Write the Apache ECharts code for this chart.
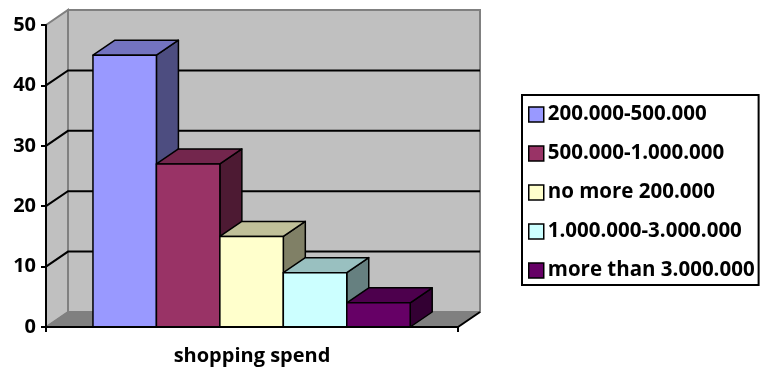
<!DOCTYPE html>
<html>
<head>
<meta charset="utf-8">
<script src="https://cdn.jsdelivr.net/npm/echarts@6/dist/echarts.min.js"></script>
<style>
html,body{margin:0;padding:0;background:#fff;}
#chart{width:760px;height:369px;}
</style>
</head>
<body>
<div id="chart"></div>
<script>
// ---- data ----
const categories = ['shopping spend'];
const seriesNames = ['200.000-500.000', '500.000-1.000.000', 'no more 200.000', '1.000.000-3.000.000', 'more than 3.000.000'];
const seriesValues = [45, 27, 15, 9, 4];
const yTicks = [0, 10, 20, 30, 40, 50];

// ---- styles ----
const frontColors = ['#9999FF', '#993366', '#FFFFCC', '#CCFFFF', '#660066'];
const topColors   = ['#7373C0', '#73264D', '#C0C099', '#99C0C0', '#4D004D'];
const sideColors  = ['#4D4D80', '#4D1A33', '#808066', '#668080', '#330033'];
const DX = 22, DY = -15;
const GAP_FRAC = 0.114, BAR_FRAC = 0.154;
const FONT = '"Open Sans", "Liberation Sans", sans-serif';

const chart = echarts.init(document.getElementById('chart'), null, {renderer: 'canvas'});

function wallsRender(params, api) {
  const c0 = api.coord([0, yTicks[0]]);
  const cTop = api.coord([0, yTicks[yTicks.length - 1]]);
  const bw = api.size([1, 0])[0];
  const xL = c0[0] - bw / 2, xR = c0[0] + bw / 2;
  const yB = c0[1], yT = cTop[1];
  const children = [];
  // back wall
  children.push({type: 'polygon', shape: {points: [[xL + DX, yT + DY], [xR + DX, yT + DY], [xR + DX, yB + DY], [xL + DX, yB + DY]]},
    style: {fill: '#C0C0C0', stroke: '#808080', lineWidth: 2}});
  // side wall
  children.push({type: 'polygon', shape: {points: [[xL, yT], [xL + DX, yT + DY], [xL + DX, yB + DY], [xL, yB]]},
    style: {fill: '#C0C0C0', stroke: '#808080', lineWidth: 2}});
  // floor
  children.push({type: 'polygon', shape: {points: [[xL, yB], [xL + DX, yB + DY], [xR + DX, yB + DY], [xR, yB]]},
    style: {fill: '#808080', stroke: '#808080', lineWidth: 1}});
  // gridlines
  for (let i = 1; i < yTicks.length - 1; i++) {
    const y = api.coord([0, yTicks[i]])[1];
    children.push({type: 'polyline', shape: {points: [[xL, y], [xL + DX, y + DY], [xR + DX, y + DY]]},
      style: {fill: null, stroke: '#000', lineWidth: 2}});
  }
  // front-right floor edge
  children.push({type: 'line', shape: {x1: xR, y1: yB, x2: xR + DX, y2: yB + DY},
    style: {stroke: '#000', lineWidth: 2}});
  return {type: 'group', children: children};
}

function makeBarRender(idx) {
  return function (params, api) {
    const cTop = api.coord([0, api.value(1)]);
    const cBase = api.coord([0, 0]);
    const bw = api.size([1, 0])[0];
    const bandStart = cTop[0] - bw / 2;
    const barW = bw * BAR_FRAC;
    const x0 = bandStart + bw * GAP_FRAC + idx * barW;
    const x1 = x0 + barW;
    const yt = cTop[1], yb = cBase[1];
    const line = {stroke: '#000', lineWidth: 1.5, lineJoin: 'round'};
    return {type: 'group', children: [
      {type: 'polygon', shape: {points: [[x1, yt], [x1 + DX, yt + DY], [x1 + DX, yb + DY], [x1, yb]]},
        style: Object.assign({fill: sideColors[idx]}, line)},
      {type: 'polygon', shape: {points: [[x0, yt], [x0 + DX, yt + DY], [x1 + DX, yt + DY], [x1, yt]]},
        style: Object.assign({fill: topColors[idx]}, line)},
      {type: 'rect', shape: {x: x0, y: yt, width: barW, height: yb - yt},
        style: Object.assign({fill: frontColors[idx]}, line)}
    ]};
  };
}

const series = [{
  name: '__walls',
  type: 'custom',
  renderItem: wallsRender,
  data: [[0, 0]],
  z: 1,
  silent: true
}];
seriesNames.forEach(function (name, i) {
  series.push({
    name: name,
    type: 'custom',
    renderItem: makeBarRender(i),
    data: [[0, seriesValues[i]]],
    encode: {x: 0, y: 1},
    itemStyle: {color: frontColors[i], borderColor: '#000', borderWidth: 1.5},
    z: 2
  });
});

chart.setOption({
  animation: false,
  backgroundColor: '#fff',
  grid: {left: 46, right: 302, top: 25, bottom: 42},
  xAxis: {
    type: 'category',
    data: categories,
    z: 10,
    axisLine: {show: true, lineStyle: {color: '#000', width: 2}},
    axisTick: {show: true, length: 5, lineStyle: {color: '#000', width: 2}},
    axisLabel: {color: '#000', fontWeight: 'bold', fontSize: 20, fontFamily: FONT, margin: 19}
  },
  yAxis: {
    type: 'value',
    min: 0, max: 50, interval: 10,
    z: 10,
    splitLine: {show: false},
    axisLine: {show: true, lineStyle: {color: '#000', width: 2}},
    axisTick: {show: true, length: 5, lineStyle: {color: '#000', width: 2}},
    axisLabel: {color: '#000', fontWeight: 'bold', fontSize: 20, fontFamily: FONT, margin: 10}
  },
  legend: {
    orient: 'vertical',
    left: 522,
    top: 95,
    data: seriesNames.map(function (n) { return {name: n, icon: 'rect'}; }),
    itemWidth: 15,
    itemHeight: 15,
    itemGap: 18,
    padding: [9, 4, 4, 6],
    borderColor: '#000',
    borderWidth: 2,
    borderRadius: 0,
    itemStyle: {borderColor: '#000', borderWidth: 1.5},
    textStyle: {color: '#000', fontWeight: 'bold', fontSize: 20.5, fontFamily: FONT, lineHeight: 20, padding: [0, 0, 0, -1]}
  },
  series: series
});
</script>
</body>
</html>
